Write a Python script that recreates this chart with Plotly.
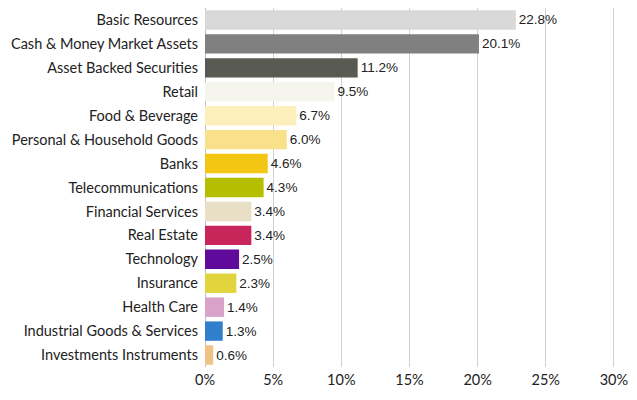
import plotly.graph_objects as go

categories = ["Basic Resources", "Cash & Money Market Assets", "Asset Backed Securities", "Retail",
              "Food & Beverage", "Personal & Household Goods", "Banks", "Telecommunications",
              "Financial Services", "Real Estate", "Technology", "Insurance", "Health Care",
              "Industrial Goods & Services", "Investments Instruments"]
values = [22.8, 20.1, 11.2, 9.5, 6.7, 6.0, 4.6, 4.3, 3.4, 3.4, 2.5, 2.3, 1.4, 1.3, 0.6]
colors = ["#d9d9d9", "#808080", "#595a52", "#f5f5ee", "#fdefbc", "#f9e08a", "#f3c614", "#b5be00",
          "#e8dfc6", "#c8255a", "#5f0a9a", "#e2d43c", "#d9a3c9", "#2f7fcd", "#f0c285"]
tick_vals = [0, 5, 10, 15, 20, 25, 30]
tick_text = ["0%", "5%", "10%", "15%", "20%", "25%", "30%"]

fig = go.Figure(go.Bar(
    x=values, y=categories, orientation="h",
    marker=dict(color=colors, line=dict(width=0)),
    text=[f"{v:.1f}%" for v in values], textposition="outside",
    textfont=dict(family="Liberation Sans, Arial", size=13.5, color="#222222"),
    cliponaxis=False,
))
# page body has an 8px default margin; size the figure so the page does not overflow
fig.update_layout(
    width=621, height=384,
    margin=dict(l=197, r=14, t=0, b=25, autoexpand=False),
    paper_bgcolor="white", plot_bgcolor="white",
    bargap=0.19,
    showlegend=False,
    font=dict(family="Lato, Noto Sans", size=14.5, color="#222222"),
    xaxis=dict(range=[0, 30.08], tickvals=tick_vals, ticktext=tick_text, automargin=False,
               showgrid=True, gridcolor="#d0d0d0", gridwidth=1,
               zeroline=True, zerolinecolor="#c0c0c0", zerolinewidth=1,
               showline=False, ticks="", tickfont=dict(size=14.5),
               ticklabeloverflow="allow", ticklabelstandoff=2),
    yaxis=dict(categoryorder="array", categoryarray=categories[::-1], automargin=False,
               autorange=True, showgrid=False, ticks="", ticklabelstandoff=6,
               tickfont=dict(size=14.5)),
)
fig.write_html("out.html")
